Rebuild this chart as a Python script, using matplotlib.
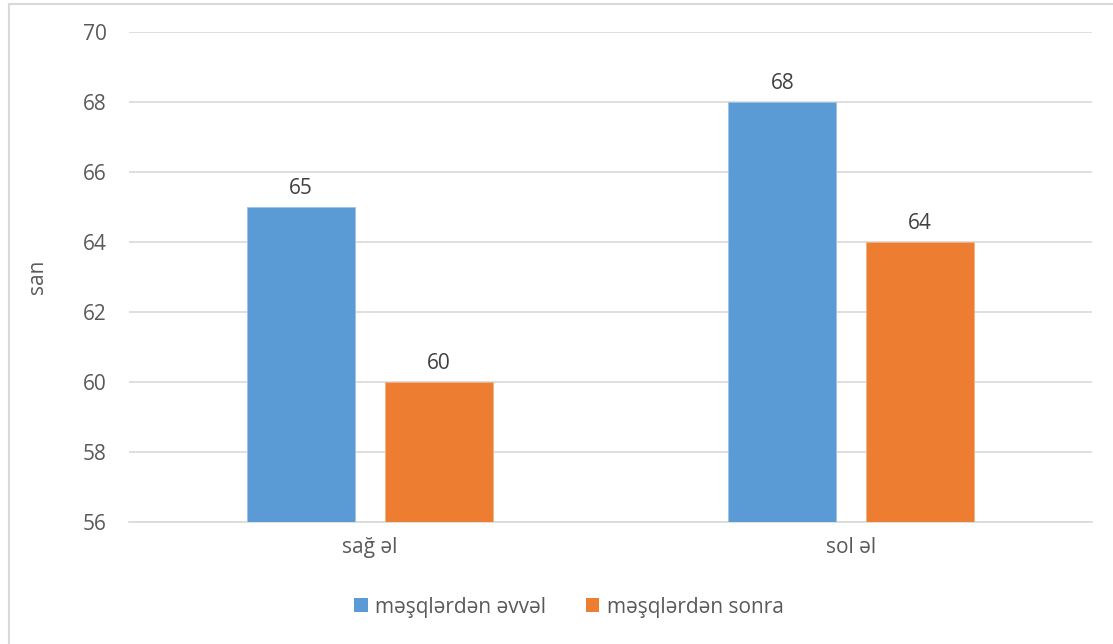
import matplotlib
matplotlib.use("Agg")
import matplotlib.pyplot as plt
from matplotlib.lines import Line2D
from matplotlib.patches import Patch
import numpy as np

categories = ["sağ əl", "sol əl"]
series_names = ["məşqlərdən əvvəl", "məşqlərdən sonra"]
before_values = [65, 68]
after_values = [60, 64]
y_ticks = [56, 58, 60, 62, 64, 66, 68, 70]

colors = ["#5B9BD5", "#ED7D31"]
text_color = "#595959"
grid_color = "#D9D9D9"

plt.rcParams["font.family"] = ["Open Sans", "DejaVu Sans"]

W, H = 1113, 644
fig = plt.figure(figsize=(W / 100, H / 100), dpi=100)
fig.patch.set_facecolor("white")

ax = fig.add_axes([129 / W, (H - 522) / H, (1092 - 129) / W, (522 - 32) / H])

x = np.arange(len(categories))
bar_w = 0.224
offset = 0.143
bars1 = ax.bar(x - offset, before_values, width=bar_w, color=colors[0],
               edgecolor="#9DC3E6", linewidth=0.6, zorder=3)
bars2 = ax.bar(x + offset, after_values, width=bar_w, color=colors[1],
               edgecolor="#F4B183", linewidth=0.6, zorder=3)

for bars, vals in ((bars1, before_values), (bars2, after_values)):
    for b, v in zip(bars, vals):
        ax.annotate(f"{v}", (b.get_x() + b.get_width() / 2, v),
                    xytext=(0, 6), textcoords="offset points",
                    ha="center", va="bottom", fontsize=15, color="#404040")

ax.set_xlim(-0.5, len(categories) - 0.5)
ax.set_ylim(y_ticks[0], y_ticks[-1])
ax.set_yticks(y_ticks)
ax.set_xticks(x)
ax.set_xticklabels(categories)
ax.tick_params(axis="y", length=0, pad=16, labelsize=15, labelcolor=text_color)
ax.tick_params(axis="x", length=0, pad=11, labelsize=15, labelcolor=text_color)
ax.yaxis.grid(True, color=grid_color, linewidth=1.2, zorder=0)
ax.set_axisbelow(True)
for s in ax.spines.values():
    s.set_visible(False)
ax.spines["bottom"].set_visible(True)
ax.spines["bottom"].set_color(grid_color)
ax.spines["bottom"].set_linewidth(1.2)

fig.text(38 / W, (H - 277) / H, "san", rotation=90, ha="center", va="center",
         fontsize=15, color=text_color)

handles = [Patch(facecolor=colors[0]), Patch(facecolor=colors[1])]
fig.legend(handles, series_names, loc="center", bbox_to_anchor=(569 / W, (H - 607) / H),
           ncol=2, frameon=False, fontsize=15, labelcolor=text_color,
           handlelength=0.65, handleheight=0.65, handletextpad=0.35, columnspacing=1.9)

# chart-area frame
fig.add_artist(Line2D([8.5 / W, 8.5 / W], [0, (H - 3.5) / H], color="#D9D9D9", lw=1.5,
                      transform=fig.transFigure))
fig.add_artist(Line2D([8.5 / W, 1], [(H - 3.5) / H, (H - 3.5) / H], color="#D9D9D9", lw=1.5,
                      transform=fig.transFigure))

fig.savefig("out.png", dpi=100)
